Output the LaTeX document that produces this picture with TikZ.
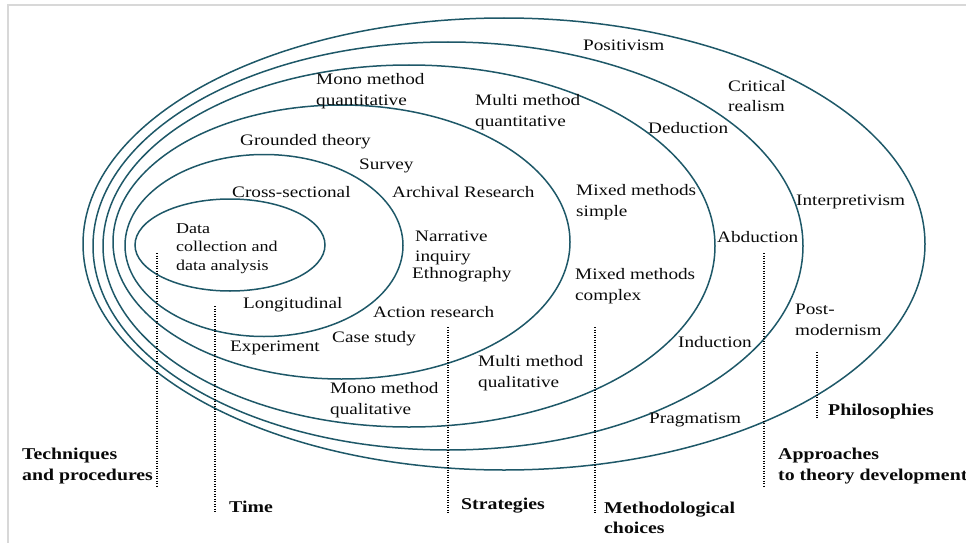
\documentclass[tikz,border=0pt]{standalone}
\usepackage{fontspec}
\setmainfont{Liberation Serif}[FakeStretch=1.2]
\definecolor{ringc}{RGB}{30,88,104}
\definecolor{txt}{RGB}{10,10,10}
\definecolor{framec}{RGB}{216,216,216}
\begin{document}
\begin{tikzpicture}[x=1pt,y=-1pt,
  ring/.style={draw=ringc, line width=1.5pt},
  lbl/.style={anchor=west, inner sep=0pt, align=left, text=txt, font=\fontsize{16}{20.5}\selectfont},
  small/.style={lbl, font=\fontsize{15}{18.5}\selectfont},
  head/.style={lbl, font=\fontsize{16.5}{20.5}\selectfont\bfseries},
  guide/.style={draw=black, line width=2.2pt, dash pattern=on 1.4pt off 1.1pt}]
\useasboundingbox (0,0) rectangle (966,543);
% frame
\draw[framec, line width=2pt] (8,543) -- (8,5) -- (966,5);
% rings
\draw[ring] (230,245) ellipse [x radius=95, y radius=46];
\draw[ring] (264,245.5) ellipse [x radius=139, y radius=91];
\draw[ring] (341.5,242) ellipse [x radius=228.5, y radius=137];
\draw[ring] (409,246) ellipse [x radius=306, y radius=181];
\draw[ring] (448,246) ellipse [x radius=355, y radius=204];
\draw[ring] (504,244) ellipse [x radius=421, y radius=226];
% labels inside rings
\node[lbl] (positivism) at (583,45) {Positivism};
\node[lbl] (critreal) at (728,96) {Critical\\realism};
\node[lbl] (monoquant) at (316,91) {Mono method\\quantitative};
\node[lbl] (multiquant) at (475,112) {Multi method\\quantitative};
\node[lbl] (deduction) at (648,128) {Deduction};
\node[lbl] (grounded) at (240,142) {Grounded theory};
\node[lbl] (survey) at (359,166) {Survey};
\node[lbl] (crosssec) at (232,192) {Cross-sectional};
\node[lbl] (archival) at (392,192) {Archival Research};
\node[lbl] (mixsimple) at (576,202) {Mixed methods\\simple};
\node[lbl] (interp) at (796,202) {Interpretivism};
\node[small] (datacoll) at (176,248.5) {Data\\collection and\\data analysis};
\node[lbl] (narrative) at (415,248) {Narrative\\inquiry};
\node[lbl] (ethno) at (412,275) {Ethnography};
\node[lbl] (abduction) at (717,237) {Abduction};
\node[lbl] (mixcomplex) at (575,286) {Mixed methods\\complex};
\node[lbl] (longit) at (243,305) {Longitudinal};
\node[lbl] (action) at (373,312) {Action research};
\node[lbl] (postmod) at (795,320) {Post-\\modernism};
\node[lbl] (casestudy) at (332,339) {Case study};
\node[lbl] (experiment) at (230,348) {Experiment};
\node[lbl] (induction) at (678,342) {Induction};
\node[lbl] (multiqual) at (478,373) {Multi method\\qualitative};
\node[lbl] (monoqual) at (330,400) {Mono method\\qualitative};
\node[lbl] (pragmatism) at (649,420) {Pragmatism};
% layer headings
\node[head] (philos) at (828,412) {Philosophies};
\node[head] (approaches) at (778,466) {Approaches\\to theory development};
\node[head] (techniques) at (22,466) {Techniques\\and procedures};
\node[head] (time) at (229,507) {Time};
\node[head] (strategies) at (461,506) {Strategies};
\node[head] (methchoices) at (604,518) {Methodological\\choices};
% guide line end points
\coordinate (tpT) at (157,253);   \coordinate (tpB) at (157,486);
\coordinate (tiT) at (215,306);   \coordinate (tiB) at (215,513);
\coordinate (stT) at (448,327);   \coordinate (stB) at (448,513);
\coordinate (mcT) at (595,327);   \coordinate (mcB) at (595,513);
\coordinate (apT) at (764,253);   \coordinate (apB) at (764,486);
\coordinate (phT) at (817,352);   \coordinate (phB) at (817,418);
\draw[guide] (tpT) -- (tpB);
\draw[guide] (tiT) -- (tiB);
\draw[guide] (stT) -- (stB);
\draw[guide] (mcT) -- (mcB);
\draw[guide] (apT) -- (apB);
\draw[guide] (phT) -- (phB);
\end{tikzpicture}
\end{document}
